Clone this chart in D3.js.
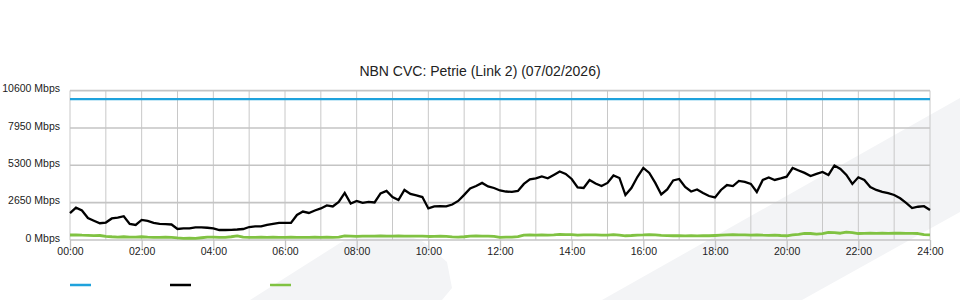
<!DOCTYPE html>
<html>
<head>
<meta charset="utf-8">
<script src="https://cdn.jsdelivr.net/npm/d3@7/dist/d3.min.js"></script>
<style>
  html, body { margin: 0; padding: 0; background: #fff; }
  svg { display: block; font-family: "Liberation Sans", Arial, sans-serif; }
</style>
</head>
<body>
<svg id="chart" width="960" height="300"></svg>
<script>
// ---- DATA ----
const title = "NBN CVC: Petrie (Link 2) (07/02/2026)";
const sampleStepMinutes = 10; // one value every 10 minutes, 00:00 .. 24:00
const yTickValues = [0, 2650, 5300, 7950, 10600];
const xTickHours = [0, 2, 4, 6, 8, 10, 12, 14, 16, 18, 20, 22, 24];
const capacityMbps = 10000;

// black series (Mbps)
const trafficMbps = [
  1900, 2290, 2095, 1560, 1370, 1190,   // 00
  1240, 1530, 1580, 1690, 1140, 1065,   // 01
  1420, 1350, 1210, 1140, 1120, 1100,   // 02
   780,  820,  820,  900,  900,  870,   // 03
   830,  710,  710,  725,  745,  780,   // 04
   920,  960,  960, 1065, 1140, 1210,   // 05
  1210, 1210, 1775, 2020, 1920, 2095,   // 06
  2240, 2450, 2380, 2700, 3340, 2590,   // 07
  2770, 2630, 2700, 2660, 3300, 3480,   // 08
  3050, 2840, 3550, 3270, 3160, 3050,   // 09
  2240, 2380, 2400, 2390, 2520, 2770,   // 10
  3200, 3660, 3830, 4050, 3800, 3690,   // 11
  3515, 3440, 3410, 3480, 3980, 4300,   // 12
  4370, 4510, 4380, 4615, 4860, 4690,   // 13
  4330, 3730, 3690, 4260, 4010, 3830,   // 14
  4050, 4580, 4400, 3190, 3690, 4470,   // 15
  5110, 4760, 4050, 3230, 3590, 4225,   // 16
  4330, 3760, 3440, 3590, 3340, 3120,   // 17
  3020, 3550, 3900, 3830, 4190, 4120,   // 18
  3980, 3410, 4260, 4440, 4260, 4370,   // 19
  4490, 5110, 4935, 4760, 4540, 4690,   // 20
  4830, 4615, 5290, 5040, 4615, 3980,   // 21
  4450, 4260, 3760, 3550, 3410, 3320,   // 22
  3195, 2960, 2630, 2270, 2360, 2400,   // 23
  2130                                  // 24:00
];

// green series (Mbps)
const secondaryMbps = [
  355, 360, 340, 330, 310, 320,
  260, 230, 210, 230, 200, 210,
  230, 200, 190, 190, 200, 190,
  150, 120, 130, 120, 160, 200,
  210, 180, 190, 230, 290, 200,
  190, 180, 200, 190, 200, 190,
  190, 200, 190, 180, 190, 200,
  190, 200, 190, 210, 290, 270,
  250, 270, 280, 270, 290, 280,
  280, 290, 270, 280, 270, 280,
  250, 260, 270, 250, 220, 200,
  230, 270, 290, 280, 270, 250,
  190, 200, 210, 240, 350, 360,
  350, 360, 350, 370, 400, 380,
  380, 350, 370, 360, 370, 350,
  350, 380, 340, 300, 320, 350,
  360, 380, 360, 330, 310, 300,
  300, 290, 300, 290, 310, 300,
  320, 340, 360, 380, 370, 360,
  350, 360, 340, 330, 350, 320,
  300, 360, 400, 470, 460, 420,
  450, 540, 520, 480, 560, 520,
  460, 470, 480, 470, 480, 470,
  480, 480, 470, 470, 460, 380,
  360
];

// ---- STYLE ----
const colors = { capacity: "#1fa2dc", traffic: "#000000", secondary: "#80c242" };
const margin = { left: 70, right: 30, top: 90.6, bottom: 60 };
const W = 960, H = 300;

const svg = d3.select("#chart");

// watermark (background logo shapes)
const wm = svg.append("g").attr("fill", "#f3f4f6");
wm.append("path").attr("d", "M602,300 L960,98 L960,212 L802,300 Z");
wm.append("path").attr("d", "M250,300 L340,243 C360,232 405,231 425,243 L447,262 L452,288 L442,300 Z");

const x = d3.scaleLinear().domain([0, 24]).range([margin.left, W - margin.right]);
const y = d3.scaleLinear().domain([0, 10600]).range([H - margin.bottom, margin.top]);

// title
svg.append("text")
  .attr("x", 480).attr("y", 76)
  .attr("text-anchor", "middle")
  .attr("font-size", "14px")
  .attr("fill", "#222")
  .text(title);

// vertical hourly grid
svg.append("g")
  .selectAll("line")
  .data(d3.range(0, 25))
  .join("line")
  .attr("x1", d => x(d)).attr("x2", d => x(d))
  .attr("y1", y(10600)).attr("y2", y(0))
  .attr("stroke", "#c8c8c8").attr("stroke-width", 1);

// horizontal grid
svg.append("g")
  .selectAll("line")
  .data(yTickValues)
  .join("line")
  .attr("x1", x(0)).attr("x2", x(24))
  .attr("y1", d => y(d)).attr("y2", d => y(d))
  .attr("stroke", "#c4c4c4").attr("stroke-width", 1.6);

// x axis ticks + labels
const xAxis = d3.axisBottom(x)
  .tickValues(xTickHours)
  .tickSize(9)
  .tickFormat(d => String(d).padStart(2, "0") + ":00");
const gx = svg.append("g").attr("transform", `translate(0,${y(0)})`).call(xAxis);
gx.select(".domain").remove();
gx.selectAll(".tick line").attr("stroke", "#c4c4c4").attr("stroke-width", 1.3);
gx.selectAll(".tick text")
  .attr("font-family", "Liberation Sans, Arial, sans-serif")
  .attr("font-size", "10.5px").attr("fill", "#222").attr("dy", "0.55em").attr("y", 9);

// y axis labels
const yAxis = d3.axisLeft(y).tickValues(yTickValues).tickSize(0).tickPadding(10)
  .tickFormat(d => d + " Mbps");
const gy = svg.append("g").attr("transform", `translate(${x(0)},0)`).call(yAxis);
gy.select(".domain").remove();
gy.selectAll(".tick text")
  .attr("font-family", "Liberation Sans, Arial, sans-serif")
  .attr("font-size", "10.5px").attr("fill", "#222").attr("dy", "0.12em");

// series
const t = i => i * sampleStepMinutes / 60;
const line = d3.line().x((d, i) => x(t(i))).y(d => y(d));

const capacitySeries = trafficMbps.map(() => capacityMbps);

svg.append("path").datum(capacitySeries)
  .attr("d", line).attr("fill", "none")
  .attr("stroke", colors.capacity).attr("stroke-width", 2.2);

svg.append("path").datum(secondaryMbps)
  .attr("d", line).attr("fill", "none")
  .attr("stroke", colors.secondary).attr("stroke-width", 2.8)
  .attr("stroke-linejoin", "round");

svg.append("path").datum(trafficMbps)
  .attr("d", line).attr("fill", "none")
  .attr("stroke", colors.traffic).attr("stroke-width", 2.3)
  .attr("stroke-linejoin", "miter");

// legend (swatches only)
const legend = [colors.capacity, colors.traffic, colors.secondary];
svg.append("g").selectAll("line").data(legend).join("line")
  .attr("x1", (d, i) => 70 + i * 100).attr("x2", (d, i) => 91 + i * 100)
  .attr("y1", 285).attr("y2", 285)
  .attr("stroke", d => d).attr("stroke-width", 2.5);
</script>
</body>
</html>
